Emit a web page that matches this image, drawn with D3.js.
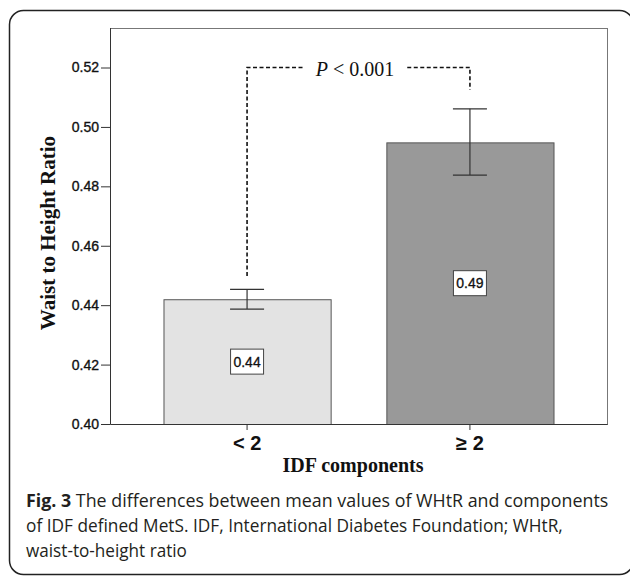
<!DOCTYPE html>
<html lang="en">
<head>
  <meta charset="UTF-8">
  <title>WHtR by IDF components</title>
  <script src="https://d3js.org/d3.v7.min.js"></script>
  <style>
    body { margin: 0; background: #fff; }
    svg { display: block; }
  </style>
</head>
<body>
  <div id="chart"></div>
  <script>
    // chart data
    const categories = ["< 2", "\u2265 2"];
    const means = [0.442, 0.4948];
    const ciLow = [0.4387, 0.4838];
    const ciHigh = [0.4453, 0.5061];
    const valueLabels = ["0.44", "0.49"];
    const yTicks = [0.40, 0.42, 0.44, 0.46, 0.48, 0.50, 0.52];
    const bracketTop = 0.52;
    const bracketEnds = [0.4498, 0.5125];
    const pText = "< 0.001";
    const yTitle = "Waist to Height Ratio";
    const xTitle = "IDF components";
    const captionBold = "Fig. 3";
    const captionLines = [
      " The differences between mean values of WHtR and components",
      "of IDF defined MetS. IDF, International Diabetes Foundation; WHtR,",
      "waist-to-height ratio"
    ];

    const W = 630, H = 576;
    const plot = { left: 110, top: 28, right: 607, bottom: 424 };

    const svg = d3.select("#chart").append("svg")
      .attr("width", W)
      .attr("height", H);

    // outer rounded frame (right side falls just outside the picture)
    svg.append("rect")
      .attr("x", 9.5).attr("y", 10.5)
      .attr("width", 624).attr("height", 564)
      .attr("rx", 14)
      .attr("fill", "none")
      .attr("stroke", "#222")
      .attr("stroke-width", 1.5);

    const x = d3.scaleBand()
      .domain(categories)
      .range([plot.left, plot.right])
      .paddingInner(0.25)
      .paddingOuter(0.24);

    const y = d3.scaleLinear()
      .domain([0.40, 0.5333])
      .range([plot.bottom, plot.top]);

    const data = categories.map((c, i) => ({
      cat: c, mean: means[i], lo: ciLow[i], hi: ciHigh[i], label: valueLabels[i]
    }));

    const sans = "'Liberation Sans', Arial, sans-serif";
    const serif = "'Liberation Serif', 'Times New Roman', serif";

    // plot frame
    svg.append("rect")
      .attr("x", plot.left + 0.5).attr("y", plot.top + 0.5)
      .attr("width", plot.right - plot.left).attr("height", plot.bottom - plot.top)
      .attr("fill", "none")
      .attr("stroke", "#777");

    // bars
    const fills = ["#e3e3e3", "#999999"];
    svg.selectAll("rect.bar")
      .data(data)
      .enter()
      .append("rect")
      .attr("class", "bar")
      .attr("x", d => x(d.cat) + 0.5)
      .attr("y", d => y(d.mean) + 0.5)
      .attr("width", x.bandwidth())
      .attr("height", d => y(0.40) - y(d.mean))
      .attr("fill", (d, i) => fills[i])
      .attr("stroke", "#555");

    // error bars
    const cap = 17;
    const eb = svg.selectAll("g.err")
      .data(data)
      .enter()
      .append("g")
      .attr("class", "err")
      .attr("stroke", "#333")
      .attr("stroke-width", 1.2);
    eb.append("line")
      .attr("x1", d => x(d.cat) + x.bandwidth() / 2)
      .attr("x2", d => x(d.cat) + x.bandwidth() / 2)
      .attr("y1", d => y(d.lo)).attr("y2", d => y(d.hi));
    eb.append("line")
      .attr("x1", d => x(d.cat) + x.bandwidth() / 2 - cap)
      .attr("x2", d => x(d.cat) + x.bandwidth() / 2 + cap)
      .attr("y1", d => y(d.hi)).attr("y2", d => y(d.hi));
    eb.append("line")
      .attr("x1", d => x(d.cat) + x.bandwidth() / 2 - cap)
      .attr("x2", d => x(d.cat) + x.bandwidth() / 2 + cap)
      .attr("y1", d => y(d.lo)).attr("y2", d => y(d.lo));

    // value labels in boxes, at middle of each bar
    const lab = svg.selectAll("g.vlab")
      .data(data)
      .enter()
      .append("g")
      .attr("class", "vlab")
      .attr("transform", d => `translate(${x(d.cat) + x.bandwidth() / 2},${y((0.40 + d.mean) / 2)})`);
    lab.append("rect")
      .attr("x", -16.5).attr("y", -12.5)
      .attr("width", 33).attr("height", 25)
      .attr("fill", "#fff")
      .attr("stroke", "#444");
    lab.append("text")
      .attr("text-anchor", "middle")
      .attr("dy", "0.36em")
      .style("font-family", sans)
      .style("font-size", "14px")
      .attr("fill", "#111")
      .attr("stroke", "#111")
      .attr("stroke-width", 0.3)
      .text(d => d.label);

    // y axis
    const yAxis = svg.append("g")
      .attr("transform", `translate(${plot.left},0)`)
      .call(d3.axisLeft(y).tickValues(yTicks).tickFormat(d3.format(".2f"))
        .tickSize(9).tickPadding(2).tickSizeOuter(0));
    yAxis.select(".domain").attr("stroke", "#333").attr("d", `M0.5,${plot.top}V${plot.bottom}`);
    yAxis.selectAll(".tick line").attr("stroke", "#333");
    yAxis.selectAll("text")
      .style("font-family", sans)
      .style("font-size", "14px")
      .attr("fill", "#111")
      .attr("stroke", "#111")
      .attr("stroke-width", 0.35);

    // x axis
    const xAxis = svg.append("g")
      .attr("transform", `translate(0,${plot.bottom})`)
      .call(d3.axisBottom(x).tickSize(6).tickSizeOuter(0));
    xAxis.select(".domain").attr("stroke", "#333");
    xAxis.selectAll(".tick line").attr("stroke", "#333");
    xAxis.selectAll("text")
      .attr("y", 12)
      .style("font-family", sans)
      .style("font-size", "20px")
      .style("font-weight", "bold")
      .attr("fill", "#111");

    // axis titles
    svg.append("text")
      .attr("transform", "translate(55,233) rotate(-90)")
      .attr("text-anchor", "middle")
      .style("font-family", serif)
      .style("font-size", "21px")
      .style("font-weight", "bold")
      .attr("fill", "#111")
      .text(yTitle);

    svg.append("text")
      .attr("x", 353).attr("y", 472)
      .attr("text-anchor", "middle")
      .style("font-family", serif)
      .style("font-size", "20px")
      .style("font-weight", "bold")
      .attr("fill", "#111")
      .text(xTitle);

    // significance bracket
    const cx = categories.map(c => x(c) + x.bandwidth() / 2);
    const yTop = y(bracketTop);
    const pLabel = svg.append("text")
      .attr("x", 355).attr("y", yTop + 8)
      .attr("text-anchor", "middle")
      .style("font-family", serif)
      .style("font-size", "20px")
      .attr("fill", "#111");
    pLabel.append("tspan").style("font-style", "italic").text("P");
    pLabel.append("tspan").text(" " + pText);
    const pw = pLabel.node().getComputedTextLength();
    const gap = 13;
    const bracket = d3.line();
    svg.append("path")
      .attr("d", bracket([[cx[0], y(bracketEnds[0])], [cx[0], yTop], [355 - pw / 2 - gap, yTop]]))
      .attr("fill", "none").attr("stroke", "#111").attr("stroke-width", 1.6)
      .attr("stroke-dasharray", "4,2.5");
    svg.append("path")
      .attr("d", bracket([[355 + pw / 2 + gap, yTop], [cx[1], yTop], [cx[1], y(bracketEnds[1])]]))
      .attr("fill", "none").attr("stroke", "#111").attr("stroke-width", 1.6)
      .attr("stroke-dasharray", "4,2.5");

    // caption, each line squeezed to the width it has in the figure
    const capWidths = [583, 537, 161];
    const capBase = [507, 532, 557];
    captionLines.forEach((line, i) => {
      const g = svg.append("g");
      const t = g.append("text")
        .style("font-family", "'Open Sans', 'Noto Sans', sans-serif")
        .style("font-size", "17.5px")
        .attr("fill", "#231f20");
      if (i === 0) t.append("tspan").style("font-weight", "bold").text(captionBold);
      t.append("tspan").text(line);
      const w = t.node().getComputedTextLength();
      g.attr("transform", `translate(26,${capBase[i]}) scale(${capWidths[i] / w},1)`);
    });
  </script>
</body>
</html>
